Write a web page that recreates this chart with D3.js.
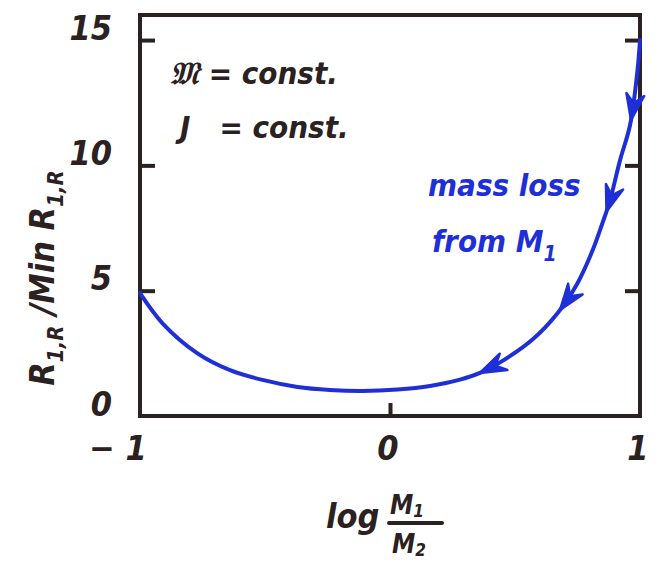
<!DOCTYPE html>
<html>
<head>
<meta charset="utf-8">
<script src="https://cdn.jsdelivr.net/npm/d3@7"></script>
<style>
  body { margin: 0; background: #fff; }
  svg text { font-family: "DejaVu Sans Condensed", "DejaVu Sans", sans-serif; font-style: oblique; font-weight: bold; }
</style>
</head>
<body>
<div id="chart"></div>
<script>
// values
const logQ = [-1, -0.91, -0.77, -0.64, -0.51, -0.37, -0.24, -0.11, 0.03, 0.16, 0.28, 0.36, 0.45, 0.57, 0.67, 0.75, 0.81, 0.85, 0.88, 0.92, 0.96, 0.99, 1];
const radius = [4.9, 3.7, 2.5, 1.83, 1.44, 1.16, 1.04, 1.0, 1.06, 1.2, 1.45, 1.72, 2.2, 3.05, 4.1, 5.3, 6.6, 7.7, 8.6, 10.2, 11.6, 13.8, 15.0];
const arrowsAt = [0.964, 0.866, 0.68, 0.36];
const yTicks = [0, 5, 10, 15];
const xTicks = [-1, 0, 1];

const width = 658,
  height = 570,
  margin = { top: 15, bottom: 154, left: 140, right: 18 };

const ink = "#2b2121",
  blue = "#1f2fd8";

const x = d3.scaleLinear().domain([-1, 1]).range([margin.left, width - margin.right]);
const y = d3.scaleLinear().domain([0, 16]).range([height - margin.bottom, margin.top]);

const svg = d3.select("#chart").append("svg")
  .attr("width", width)
  .attr("height", height);

// frame
svg.append("rect")
  .attr("x", x(-1)).attr("y", y(16))
  .attr("width", x(1) - x(-1)).attr("height", y(0) - y(16))
  .attr("fill", "none").attr("stroke", ink).attr("stroke-width", 4);

// inward ticks left and right
const yAxisL = d3.axisRight(y).tickValues(yTicks.filter(d => d > 0)).tickSize(15).tickFormat("");
const yAxisR = d3.axisLeft(y).tickValues(yTicks.filter(d => d > 0)).tickSize(15).tickFormat("");
const xAxisB = d3.axisTop(x).tickValues([0]).tickSize(13).tickFormat("");

[svg.append("g").attr("transform", `translate(${x(-1)},0)`).call(yAxisL),
 svg.append("g").attr("transform", `translate(${x(1)},0)`).call(yAxisR),
 svg.append("g").attr("transform", `translate(0,${y(0)})`).call(xAxisB)]
  .forEach(g => {
    g.select(".domain").remove();
    g.selectAll("line").attr("stroke", ink).attr("stroke-width", 4);
  });

// tick labels
svg.selectAll(".ylab")
  .data(yTicks)
  .join("text")
  .attr("x", 112)
  .attr("y", d => y(d) - 10)
  .attr("text-anchor", "end")
  .attr("dominant-baseline", "middle")
  .attr("font-size", 34)
  .attr("font-weight", "normal")
  .attr("fill", ink)
  .text(d => d);

svg.selectAll(".xlab")
  .data(xTicks)
  .join("text")
  .attr("x", d => x(d) + (d < 0 ? -22 : -2))
  .attr("y", y(0) + 34)
  .attr("text-anchor", "middle")
  .attr("dominant-baseline", "middle")
  .attr("font-size", 34)
  .attr("font-weight", "normal")
  .attr("fill", ink)
  .text(d => d < 0 ? "\u2212 1" : d);

// curve
const pts = logQ.map((d, i) => [d, radius[i]]);
const line = d3.line()
  .x(d => x(d[0]))
  .y(d => y(d[1]))
  .curve(d3.curveCatmullRom.alpha(0.5));

const path = svg.append("path")
  .datum(pts)
  .attr("d", line)
  .attr("fill", "none")
  .attr("stroke", blue)
  .attr("stroke-width", 4)
  .attr("stroke-linecap", "round");

// arrowheads along the curve, pointing to smaller mass ratio
const node = path.node();
const total = node.getTotalLength();
function lenAt(px) {
  let lo = 0, hi = total;
  for (let k = 0; k < 40; k++) {
    const mid = (lo + hi) / 2;
    if (node.getPointAtLength(mid).x < px) lo = mid; else hi = mid;
  }
  return (lo + hi) / 2;
}
arrowsAt.forEach(a => {
  const l = lenAt(x(a));
  const tip = node.getPointAtLength(l);
  const back = node.getPointAtLength(Math.min(total, l + 8));
  const ang = Math.atan2(tip.y - back.y, tip.x - back.x) * 180 / Math.PI;
  svg.append("path")
    .attr("transform", `translate(${tip.x},${tip.y}) rotate(${ang})`)
    .attr("d", "M0,0 L-26,-9 L-17,0 L-26,9 Z")
    .attr("fill", blue)
    .attr("stroke", blue)
    .attr("stroke-width", 2.5)
    .attr("stroke-linejoin", "round");
});

// constants note
const note = svg.append("g").attr("fill", ink).attr("font-size", 31);
note.append("text").attr("x", 170).attr("y", 84).text("\uD835\uDD10 = const.");
note.append("text").attr("x", 180).attr("y", 138).attr("xml:space", "preserve").text("J   = const.");

// mass loss label
const ml = svg.append("g").attr("fill", blue).attr("font-size", 31);
ml.append("text").attr("x", 428).attr("y", 196).text("mass loss");
const fr = ml.append("text").attr("x", 432).attr("y", 252).text("from M");
fr.append("tspan").attr("font-size", 21).attr("dy", 9).text("1");

// y axis title
const yt = svg.append("text")
  .attr("transform", `translate(54,${278}) rotate(-90)`)
  .attr("text-anchor", "middle")
  .attr("font-size", 34)
  .attr("fill", ink);
yt.append("tspan").text("R");
yt.append("tspan").attr("font-size", 22).attr("dy", 9).text("1,R");
yt.append("tspan").attr("dy", -9).text(" /Min R");
yt.append("tspan").attr("font-size", 22).attr("dy", 9).text("1,R");

// x axis title
const xt = svg.append("g").attr("fill", ink);
xt.append("text").attr("x", 326).attr("y", 528).attr("font-size", 34).text("log");
xt.append("text").attr("x", 390).attr("y", 514).attr("font-size", 26).text("M").append("tspan").attr("font-size", 17).attr("dy", 3).text("1");
xt.append("line").attr("x1", 389).attr("x2", 442).attr("y1", 523).attr("y2", 523)
  .attr("stroke", ink).attr("stroke-width", 4).attr("stroke-linecap", "round");
xt.append("text").attr("x", 392).attr("y", 553).attr("font-size", 26).text("M").append("tspan").attr("font-size", 17).attr("dy", 3).text("2");
</script>
</body>
</html>
